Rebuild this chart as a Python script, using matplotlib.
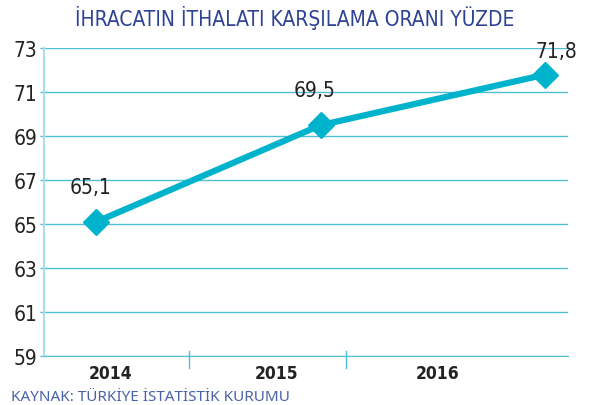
import matplotlib.pyplot as plt

years = ['2014', '2015', '2016']
values = [65.1, 69.5, 71.8]
labels = ['65,1', '69,5', '71,8']
yticks = [59, 61, 63, 65, 67, 69, 71, 73]

teal = '#00b3cc'
grid_c = '#4fbfd6'
num_font = dict(family='DejaVu Sans', stretch='condensed', color='#222222')

fig = plt.figure(figsize=(5.9, 4.06), dpi=100)
ax = fig.add_axes([0.0746, 0.1207, 0.888, 0.758])

x = list(range(len(values)))
ax.plot(x, values, color=teal, lw=4.5, marker='D', ms=13, solid_joinstyle='miter', zorder=3)
ax.set_xlim(-0.232, 2.102)
ax.set_ylim(59, 73)
ax.set_yticks(yticks)
ax.set_yticklabels([str(t) for t in yticks], fontsize=15, **num_font)
ax.tick_params(axis='y', length=3, width=1, color=grid_c, pad=2)
ax.set_xticks([])
ax.grid(axis='y', color=grid_c, lw=1)
for s in ['top', 'right']:
    ax.spines[s].set_visible(False)
ax.spines['left'].set_color('#a6e0ea')
ax.spines['left'].set_linewidth(1.5)
ax.spines['bottom'].set_color(grid_c)

offsets = [(-4, 18), (-4, 18), (8, 10)]
for xi, v, lab, off in zip(x, values, labels, offsets):
    ax.annotate(lab, (xi, v), xytext=off, textcoords='offset points', ha='center', va='bottom',
                fontsize=15, **num_font)

# separate year axis
ax2 = fig.add_axes(ax.get_position(), frameon=False)
ax2.set_xlim(0, 524)
ax2.set_ylim(0, 1)
ax2.set_yticks([])
ax2.set_xticks([67, 233, 394])
ax2.set_xticklabels(years, fontsize=12.5, weight='semibold', **num_font)
ax2.tick_params(axis='x', length=0, pad=6)
for sx in [145, 302]:
    ax2.plot([sx, sx], [-0.04, 0.016], color=grid_c, lw=1, clip_on=False)

fig.text(0.5, 0.955, 'İHRACATIN İTHALATI KARŞILAMA ORANI YÜZDE', ha='center', va='center',
         family='DejaVu Sans', stretch='condensed', fontsize=15, color='#2e4393')
fig.text(0.018, 0.022, 'KAYNAK: TÜRKİYE İSTATİSTİK KURUMU', ha='left', va='center',
         family='Noto Sans', fontsize=11, color='#4a63a8')

fig.savefig('out.png', dpi=100)
